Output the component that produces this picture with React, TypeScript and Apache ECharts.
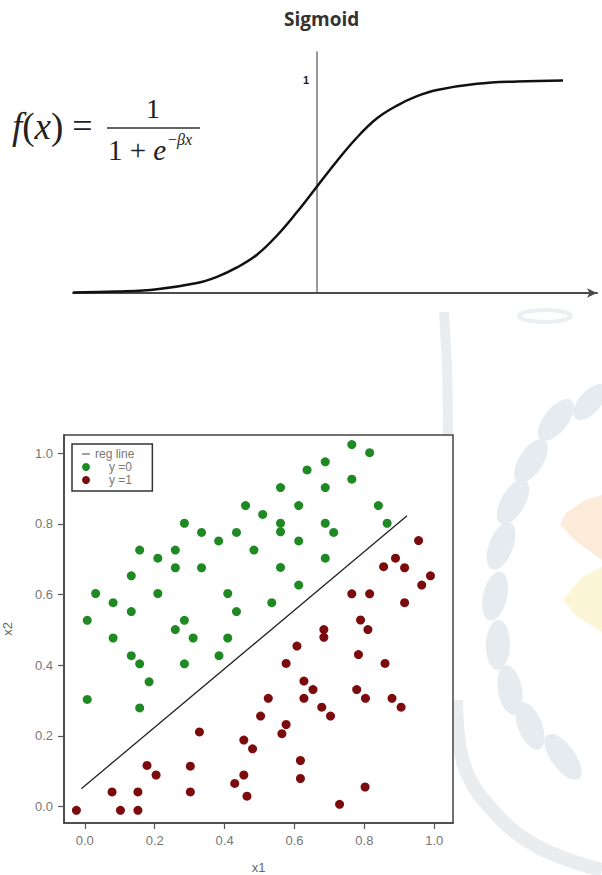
import React, { useEffect, useRef } from 'react';
import * as echarts from 'echarts';

// ---- Sigmoid curve (x in units of 1/beta) ----
const sigmoidX = [-6.1, -5, -4, -3, -2.5, -2, -1.5, -1, -0.5, 0, 0.5, 1, 1.5, 2, 2.5, 3, 4, 5, 6.15];
const sigmoidY = [0.002, 0.007, 0.018, 0.047, 0.076, 0.12, 0.18, 0.27, 0.38, 0.5, 0.62, 0.73, 0.82, 0.88, 0.924, 0.953, 0.982, 0.993, 0.998];
const sigmoidTopLabel = [1];

// ---- Scatter: class y = 0 (green) ----
const classZero: [number, number][] = [
  [0.460, 0.852], [0.285, 0.802], [0.334, 0.776], [0.434, 0.776], [0.383, 0.752], [0.484, 0.726],
  [0.157, 0.726], [0.259, 0.726], [0.209, 0.703], [0.259, 0.676], [0.334, 0.676], [0.133, 0.653],
  [0.031, 0.603], [0.209, 0.603], [0.409, 0.603], [0.081, 0.577], [0.133, 0.552], [0.434, 0.552],
  [0.007, 0.527], [0.285, 0.527], [0.259, 0.501],
  [0.081, 0.477], [0.310, 0.477], [0.409, 0.477], [0.133, 0.427], [0.157, 0.404], [0.285, 0.404],
  [0.384, 0.427], [0.184, 0.353], [0.007, 0.303], [0.157, 0.279],
  [0.764, 1.025], [0.815, 1.002], [0.688, 0.976], [0.636, 0.953], [0.764, 0.927], [0.560, 0.903],
  [0.688, 0.903], [0.612, 0.852], [0.840, 0.852], [0.509, 0.827], [0.560, 0.802], [0.560, 0.778],
  [0.688, 0.802], [0.712, 0.776], [0.865, 0.802], [0.612, 0.752], [0.560, 0.677], [0.688, 0.703],
  [0.612, 0.627], [0.535, 0.577],
];

// ---- Scatter: class y = 1 (dark red) ----
const classOne: [number, number][] = [
  [0.503, 0.256], [0.328, 0.211], [0.455, 0.188], [0.480, 0.163], [0.178, 0.116], [0.302, 0.114],
  [0.204, 0.089], [0.455, 0.089], [0.429, 0.065], [0.078, 0.041], [0.152, 0.041], [0.302, 0.041],
  [0.464, 0.029], [-0.024, -0.011], [0.102, -0.011], [0.152, -0.011],
  [0.955, 0.753], [0.889, 0.703], [0.855, 0.679], [0.915, 0.676], [0.989, 0.653], [0.964, 0.627],
  [0.764, 0.602], [0.815, 0.602], [0.915, 0.577], [0.789, 0.528],
  [0.684, 0.501], [0.684, 0.479], [0.810, 0.501], [0.607, 0.454], [0.783, 0.430], [0.576, 0.405],
  [0.859, 0.405], [0.627, 0.355], [0.653, 0.331], [0.778, 0.331], [0.525, 0.306], [0.627, 0.306],
  [0.803, 0.306], [0.879, 0.306], [0.678, 0.281], [0.905, 0.281], [0.703, 0.256], [0.576, 0.232],
  [0.564, 0.206], [0.617, 0.130], [0.617, 0.079], [0.802, 0.055], [0.729, 0.006],
];

// ---- Regression line end points ----
const regLine: [number, number][] = [[-0.01, 0.05], [0.922, 0.823]];

// ---- Tick labels of the scatter axes ----
const tickValues = [0, 0.2, 0.4, 0.6, 0.8, 1.0];

const serif = "'Liberation Serif', 'DejaVu Serif', serif";
const sans = "'Liberation Sans', Arial, sans-serif";

function buildWatermark(): any[] {
  const leafFill = '#e6ebef';
  const leafSpecs = [
    [590, 402, 22, 11, 0.85], [556, 420, 25, 12, 0.9], [531, 461, 25, 12, 1.0], [513, 502, 25, 12, 1.05],
    [501, 546, 25, 12, 1.2], [495, 596, 25, 12, 1.35], [498, 645, 25, 12, 1.55], [510, 690, 25, 12, 1.75],
    [530, 726, 25, 12, 1.95], [563, 757, 27, 12, 2.2],
  ];
  const leaves = leafSpecs.map(([x, y, rx, ry, r]) => ({
    type: 'ellipse', x, y, rotation: r, silent: true, z: -5,
    shape: { cx: 0, cy: 0, rx, ry },
    style: { fill: leafFill },
  }));
  return [
    ...leaves,
    {
      type: 'polyline', silent: true, z: -5,
      shape: { points: [[456, 700], [464, 765], [494, 812], [540, 848], [602, 870]], smooth: 0.4 },
      style: { stroke: '#e9edf0', lineWidth: 14, fill: 'none' },
    },
    {
      type: 'polyline', silent: true, z: -5,
      shape: { points: [[444, 312], [447, 370], [448, 434]], smooth: 0.4 },
      style: { stroke: '#e9edf0', lineWidth: 10, fill: 'none' },
    },
    {
      type: 'ellipse', silent: true, z: -5,
      shape: { cx: 545, cy: 316, rx: 26, ry: 6 },
      style: { fill: 'none', stroke: '#eceff2', lineWidth: 4 },
    },
    {
      type: 'polygon', silent: true, z: -5,
      shape: { points: [[602, 495], [585, 500], [566, 513], [560, 525], [576, 541], [602, 560]] },
      style: { fill: '#fdebd9' },
    },
    {
      type: 'polygon', silent: true, z: -5,
      shape: { points: [[602, 567], [582, 577], [563, 600], [576, 616], [602, 632]] },
      style: { fill: '#fdf6d6' },
    },
  ];
}

function buildFormula(): any[] {
  const ink = '#222';
  return [
    {
      type: 'text', x: 12, y: 126, silent: true,
      style: {
        text: '{i|f}{n|(}{i|x}{n|)}{s| = }',
        align: 'left', verticalAlign: 'middle', fill: ink,
        rich: {
          i: { fontFamily: serif, fontStyle: 'italic', fontSize: 37, fill: ink },
          n: { fontFamily: serif, fontSize: 37, fill: ink },
          s: { fontFamily: serif, fontSize: 36, fill: ink },
        },
      },
    },
    {
      type: 'line', silent: true,
      shape: { x1: 107, y1: 128, x2: 200, y2: 128 },
      style: { stroke: '#333', lineWidth: 1.5 },
    },
    {
      type: 'text', x: 153, y: 108, silent: true,
      style: { text: '1', align: 'center', verticalAlign: 'middle', fill: ink, fontFamily: serif, fontSize: 28 },
    },
    {
      type: 'text', x: 108, y: 150, silent: true,
      style: {
        text: '{n|1 + }{i|e}',
        align: 'left', verticalAlign: 'middle', fill: ink,
        rich: {
          i: { fontFamily: serif, fontStyle: 'italic', fontSize: 29, fill: ink },
          n: { fontFamily: serif, fontSize: 29, fill: ink },
        },
      },
    },
    {
      type: 'text', x: 168, y: 139, silent: true,
      style: {
        text: '{n|\u2212}{i|\u03b2x}',
        align: 'left', verticalAlign: 'middle', fill: ink,
        rich: {
          i: { fontFamily: serif, fontStyle: 'italic', fontSize: 16, fill: ink },
          n: { fontFamily: serif, fontSize: 16, fill: ink },
        },
      },
    },
  ];
}

export default function App() {
  const ref = useRef<HTMLDivElement>(null);

  useEffect(() => {
    document.body.style.margin = '0';
    if (!ref.current) return;
    const chart = echarts.init(ref.current, null, { renderer: 'svg' });

    const boxLine = { color: '#444', width: 1.5 };

    const option: any = {
      animation: false,
      backgroundColor: '#ffffff',
      title: {
        text: 'Sigmoid',
        left: 284,
        top: 9,
        padding: 0,
        textStyle: { fontFamily: "'Open Sans', sans-serif", fontSize: 19, fontWeight: 'bold', color: '#333' },
      },
      grid: [
        { left: 73, top: 52, width: 524, height: 241, show: false, containLabel: false, outerBoundsMode: 'none' },
        {
          left: 64, top: 435, width: 389, height: 388, show: true, borderColor: '#444', borderWidth: 1.5,
          backgroundColor: '#ffffff', containLabel: false, outerBoundsMode: 'none',
        },
      ],
      xAxis: [
        {
          gridIndex: 0, type: 'value', min: -6.1, max: 7.0,
          axisLine: { show: true, onZero: false, symbol: ['none', 'arrow'], symbolSize: [7, 10], lineStyle: { color: '#4a4a4a', width: 2 } },
          axisTick: { show: false }, axisLabel: { show: false }, splitLine: { show: false },
        },
        {
          gridIndex: 1, type: 'value', min: -0.0595, max: 1.0535,
          axisLine: { show: true, onZero: false, lineStyle: boxLine },
          axisTick: { show: true, inside: false, customValues: tickValues, length: 6, lineStyle: { color: '#555', width: 1.2 } },
          axisLabel: { customValues: tickValues, formatter: (v: number) => v.toFixed(1), color: '#777', fontSize: 13, margin: 11, fontFamily: sans },
          splitLine: { show: false },
          name: 'x1', nameLocation: 'middle', nameGap: 38,
          nameTextStyle: { color: '#666', fontSize: 13, fontFamily: sans },
        },
      ],
      yAxis: [
        {
          gridIndex: 0, type: 'value', min: 0, max: 1.1315,
          position: 'left', offset: -244,
          axisLine: { show: true, onZero: false, lineStyle: { color: '#777', width: 1.5 } },
          axisTick: { show: false },
          axisLabel: { customValues: sigmoidTopLabel, formatter: (v: number) => (v === 1 ? '1' : ''), fontSize: 11, fontWeight: 'bold', color: '#222', margin: 8, fontFamily: sans },
          splitLine: { show: false },
        },
        {
          gridIndex: 1, type: 'value', min: -0.047, max: 1.052,
          axisLine: { show: true, onZero: false, lineStyle: boxLine },
          axisTick: { show: true, inside: false, customValues: tickValues, length: 6, lineStyle: { color: '#555', width: 1.2 } },
          axisLabel: { customValues: tickValues, formatter: (v: number) => v.toFixed(1), color: '#777', fontSize: 13, margin: 11, fontFamily: sans },
          splitLine: { show: false },
          name: 'x2', nameLocation: 'middle', nameGap: 50,
          nameTextStyle: { color: '#666', fontSize: 13, fontFamily: sans },
        },
      ],
      legend: {
        left: 72, top: 444, orient: 'vertical',
        padding: [4, 18, 5, 10], itemGap: 1, itemWidth: 8, itemHeight: 8,
        borderColor: '#333', borderWidth: 1.5, backgroundColor: '#ffffff',
        textStyle: { color: '#777', fontSize: 12, fontFamily: sans },
        data: [
          { name: 'reg line', icon: 'path://M0,0h8v1.2h-8z', itemStyle: { color: '#666' } },
          { name: 'y =0', icon: 'circle', textStyle: { padding: [0, 0, 0, 14] } },
          { name: 'y =1', icon: 'circle', textStyle: { padding: [0, 0, 0, 14] } },
        ],
      },
      series: [
        {
          type: 'line', xAxisIndex: 0, yAxisIndex: 0,
          data: sigmoidX.map((x, i) => [x, sigmoidY[i]]),
          smooth: 0.4, symbol: 'none',
          lineStyle: { color: '#111', width: 2.5 },
        },
        {
          name: 'reg line', type: 'line', xAxisIndex: 1, yAxisIndex: 1,
          data: regLine, symbol: 'none',
          itemStyle: { color: '#666' },
          lineStyle: { color: '#222', width: 1.3 },
        },
        {
          name: 'y =0', type: 'scatter', xAxisIndex: 1, yAxisIndex: 1,
          data: classZero, symbolSize: 9,
          itemStyle: { color: '#1f8a24', opacity: 1 },
        },
        {
          name: 'y =1', type: 'scatter', xAxisIndex: 1, yAxisIndex: 1,
          data: classOne, symbolSize: 9,
          itemStyle: { color: '#7c0b0e', opacity: 1 },
        },
      ],
      graphic: [...buildWatermark(), ...buildFormula()],
    };

    chart.setOption(option);
    return () => chart.dispose();
  }, []);

  return <div ref={ref} style={{ width: 602, height: 875, background: '#ffffff' }} />;
}
